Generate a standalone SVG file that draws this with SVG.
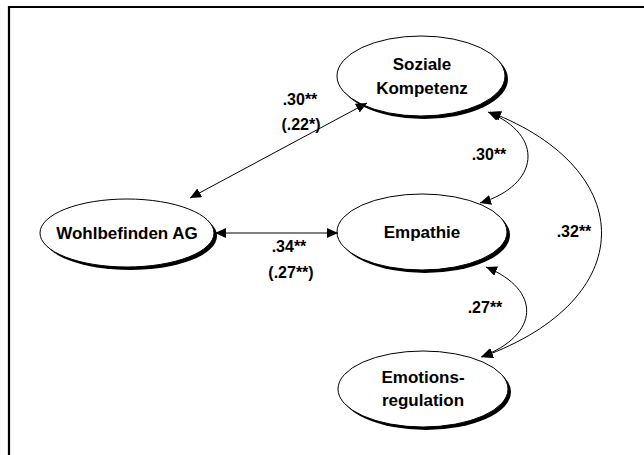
<svg xmlns="http://www.w3.org/2000/svg" width="644" height="455" viewBox="0 0 644 455">
<style>
.shadow{fill:#000;stroke:none}
.node{fill:#fff;stroke:#000;stroke-width:1}
.lbl{font-family:"Liberation Sans",Arial,sans-serif;font-weight:bold;font-size:17px;fill:#000;text-anchor:middle}
.coef{font-family:"Liberation Sans",Arial,sans-serif;font-weight:bold;font-size:16px;fill:#000;text-anchor:middle}
.edge{fill:none;stroke:#000;stroke-width:1;marker-start:url(#ah);marker-end:url(#ah)}
</style>
<defs>
<marker id="ah" markerUnits="userSpaceOnUse" markerWidth="12" markerHeight="10" refX="11" refY="5" orient="auto-start-reverse" viewBox="0 0 12 10">
<path d="M0,0 L11,5 L0,10 z" fill="#000"/>
</marker>
</defs>
<rect width="644" height="455" fill="#fff"/>
<path d="M9 456 V7 H645" fill="none" stroke="#000" stroke-width="2.2"/>

<g id="soziale">
<ellipse class="shadow" cx="424" cy="79" rx="84" ry="40"/>
<ellipse class="node" cx="421" cy="76" rx="84" ry="40"/>
<text class="lbl" x="422" y="70">Soziale</text>
<text class="lbl" x="422" y="94">Kompetenz</text>
</g>

<g id="wohlbefinden">
<ellipse class="shadow" cx="130" cy="236" rx="87" ry="34"/>
<ellipse class="node" cx="127" cy="233" rx="87" ry="34"/>
<text class="lbl" x="127" y="239">Wohlbefinden AG</text>
</g>

<g id="empathie">
<ellipse class="shadow" cx="425" cy="235" rx="85" ry="38"/>
<ellipse class="node" cx="422" cy="232" rx="85" ry="38"/>
<text class="lbl" x="422" y="238">Empathie</text>
</g>

<g id="emotionsregulation">
<ellipse class="shadow" cx="426" cy="392" rx="85" ry="38"/>
<ellipse class="node" cx="423" cy="389" rx="85" ry="38"/>
<text class="lbl" x="423" y="383">Emotions-</text>
<text class="lbl" x="423" y="406">regulation</text>
</g>

<g id="connectors">
<path class="edge" d="M190 198 L367 103"/>
<path class="edge" d="M215 233 L338 233"/>
<path class="edge" d="M488 112 C545 135 540 185 480 203"/>
<path class="edge" d="M486 267 C542 290 540 335 481 357"/>
<path class="edge" d="M490 112 C640 170 640 300 482 357"/>
<text class="coef" x="300" y="105">.30**</text>
<text class="coef" x="301" y="130">(.22*)</text>
<text class="coef" x="289" y="252">.34**</text>
<text class="coef" x="291" y="278">(.27**)</text>
<text class="coef" x="489" y="160">.30**</text>
<text class="coef" x="485" y="313">.27**</text>
<text class="coef" x="574" y="237">.32**</text>
</g>
</svg>
